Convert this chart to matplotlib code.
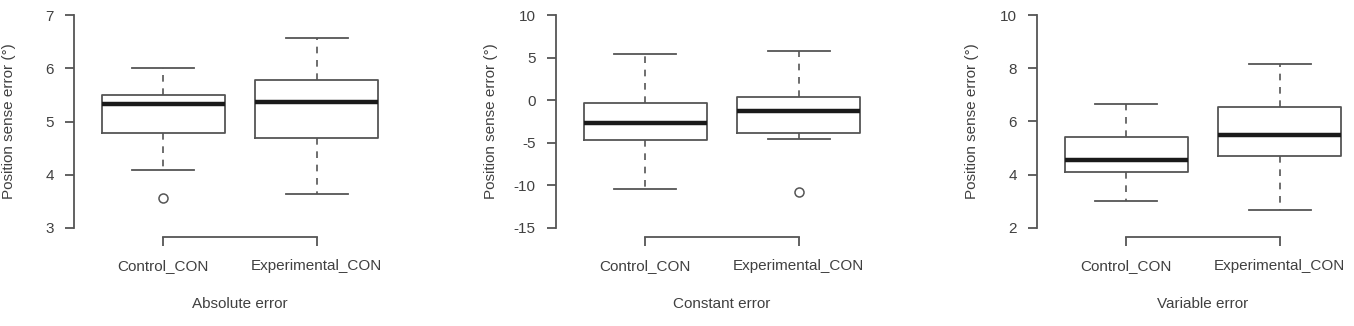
import matplotlib
matplotlib.use("Agg")
import matplotlib.pyplot as plt

plt.rcParams['font.family'] = ['Liberation Sans', 'DejaVu Sans']

categories = ["Control_CON", "Experimental_CON"]
panel_titles = ["Absolute error", "Constant error", "Variable error"]
ylabel_text = "Position sense error (°)"

# five-number summaries: [whislo, q1, med, q3, whishi]
abs_control = [4.08, 4.79, 5.32, 5.50, 6.00]
abs_experimental = [3.64, 4.69, 5.36, 5.78, 6.57]
abs_outliers = [[3.57], []]

const_control = [-10.43, -4.73, -2.70, -0.27, 5.39]
const_experimental = [-4.57, -3.87, -1.29, 0.35, 5.78]
const_outliers = [[], [-10.78]]

var_control = [3.00, 4.11, 4.54, 5.41, 6.65]
var_experimental = [2.66, 4.72, 5.50, 6.56, 8.15]
var_outliers = [[], []]

yticks_abs = [3, 4, 5, 6, 7]
yticks_const = [-15, -10, -5, 0, 5, 10]
yticks_var = [2, 4, 6, 8, 10]

panels = [
    (abs_control, abs_experimental, abs_outliers, yticks_abs, 74),
    (const_control, const_experimental, const_outliers, yticks_const, 556),
    (var_control, var_experimental, var_outliers, yticks_var, 1037),
]

W, H = 1354, 326
fig = plt.figure(figsize=(W / 100, H / 100), dpi=100)

line_col = '#555555'
text_col = '#404040'

for (ctrl, expm, outl, yt, left_px), title in zip(panels, panel_titles):
    top_px, bot_px, width_px = 6.5, 236.5, 332
    ax = fig.add_axes([left_px / W, (H - bot_px) / H, width_px / W, (bot_px - top_px) / H])
    stats = []
    for vals, fl, lab in zip([ctrl, expm], outl, categories):
        stats.append(dict(whislo=vals[0], q1=vals[1], med=vals[2], q3=vals[3],
                          whishi=vals[4], fliers=fl, label=lab))
    ax.bxp(stats, positions=[1, 2], widths=0.8, showfliers=True,
           boxprops=dict(color=line_col, linewidth=1.3),
           whiskerprops=dict(color=line_col, linewidth=1.2, linestyle=(0, (4, 4))),
           capprops=dict(color=line_col, linewidth=1.3),
           medianprops=dict(color='#1a1a1a', linewidth=3.2),
           flierprops=dict(marker='o', markersize=6.5, markerfacecolor='none',
                           markeredgecolor=line_col, markeredgewidth=1.1),
           capwidths=0.4)
    ymin, ymax = yt[0], yt[-1]
    ext = (ymax - ymin) * 0.04
    ax.set_ylim(ymin - ext, ymax + ext)
    ax.set_xlim(0.42, 2.58)
    ax.set_yticks(yt)
    ax.set_yticklabels([str(v) for v in yt])
    ax.set_xticks([1, 2])
    ax.set_xticklabels(categories)
    for s in ['top', 'right']:
        ax.spines[s].set_visible(False)
    ax.spines['left'].set_bounds(ymin, ymax)
    ax.spines['bottom'].set_bounds(1, 2)
    for s in ['left', 'bottom']:
        ax.spines[s].set_color(line_col)
        ax.spines[s].set_linewidth(1.3)
    ax.tick_params(axis='both', direction='out', length=6.5, width=1.3,
                   color=line_col, labelcolor=text_col, labelsize=11)
    ax.tick_params(axis='y', pad=8)
    ax.tick_params(axis='x', pad=10)
    ax.patch.set_alpha(0)
    # axis label and title
    ax_c = (top_px + bot_px) / 2
    fig.text((left_px - 65) / W, 1 - ax_c / H, ylabel_text, rotation=90,
             ha='center', va='center', fontsize=11, color=text_col)
    fig.text((left_px + 89 + 77) / W, 1 - 304 / H, title,
             ha='center', va='center', fontsize=11, color=text_col)

fig.savefig("out.png", dpi=100)
